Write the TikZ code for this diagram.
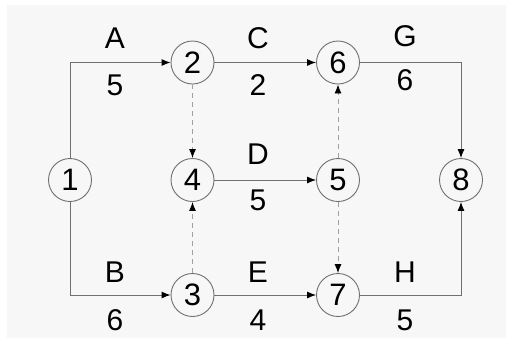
\documentclass[tikz,border=0pt]{standalone}
\usepackage{fontspec}
\setmainfont{Liberation Sans}
\usetikzlibrary{arrows.meta}
\definecolor{bgc}{HTML}{F7F7F7}
\definecolor{linec}{HTML}{707070}
\definecolor{dashc}{HTML}{A0A0A0}
\begin{document}
\begin{tikzpicture}[x=1pt,y=-1pt,
  ev/.style={circle,draw=linec,line width=0.9pt,minimum size=43pt,inner sep=0pt,fill=bgc,font=\fontsize{31}{33}\selectfont},
  lbl/.style={font=\fontsize{30}{32}\selectfont,inner sep=0pt},
  act/.style={draw=linec,line width=0.9pt,-{Latex[length=9pt,width=7pt,color=black]}},
  dum/.style={draw=dashc,line width=0.9pt,dash pattern=on 5pt off 4pt,-{Latex[length=9pt,width=7pt,color=black]}}]
\useasboundingbox (0,0) rectangle (506,338);
\fill[white] (0,0) rectangle (506,338);
\fill[bgc] (7,5) rectangle (506,338);
\node[ev] (n1) at (70,180) {1};
\node[ev] (n2) at (192.5,62.5) {2};
\node[ev] (n3) at (192.5,295) {3};
\node[ev] (n4) at (192.5,180) {4};
\node[ev] (n5) at (338,180) {5};
\node[ev] (n6) at (338,62.5) {6};
\node[ev] (n7) at (338,295) {7};
\node[ev] (n8) at (461,180) {8};
\draw[act] (n1.north) |- (n2.west);
\draw[act] (n1.south) |- (n3.west);
\draw[act] (n2) -- (n6);
\draw[act] (n4) -- (n5);
\draw[act] (n3) -- (n7);
\draw[act] (n6.east) -| (n8.north);
\draw[act] (n7.east) -| (n8.south);
\draw[dum] (n2) -- (n4);
\draw[dum] (n3) -- (n4);
\draw[dum] (n5) -- (n6);
\draw[dum] (n5) -- (n7);
\node[lbl] (la) at (115,38) {A};
\node[lbl] (wa) at (115,85) {5};
\node[lbl] (lc) at (258,38) {C};
\node[lbl] (wc) at (258,85) {2};
\node[lbl] (lg) at (405,36) {G};
\node[lbl] (wg) at (405,80) {6};
\node[lbl] (ld) at (258,154) {D};
\node[lbl] (wd) at (258,200) {5};
\node[lbl] (lb) at (115,272) {B};
\node[lbl] (wb) at (115,320) {6};
\node[lbl] (le) at (258,272) {E};
\node[lbl] (we) at (258,320) {4};
\node[lbl] (lh) at (405,272) {H};
\node[lbl] (wh) at (405,320) {5};
\end{tikzpicture}
\end{document}
